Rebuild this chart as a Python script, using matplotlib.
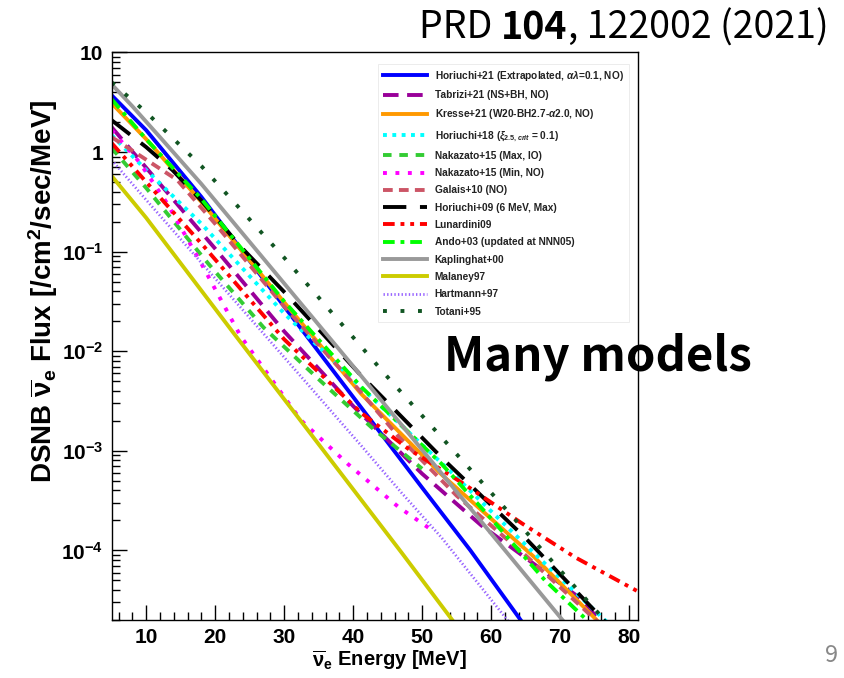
import matplotlib
matplotlib.use('Agg')
import matplotlib.pyplot as plt
import numpy as np
from matplotlib.ticker import MultipleLocator, LogLocator, FuncFormatter, NullFormatter

plt.rcParams['font.family'] = ['Liberation Sans', 'DejaVu Sans']
plt.rcParams['mathtext.fontset'] = 'custom'
plt.rcParams['mathtext.rm'] = 'Liberation Sans:bold'
plt.rcParams['mathtext.bf'] = 'Liberation Sans:bold'
plt.rcParams['mathtext.it'] = 'Liberation Sans:bold:italic'
plt.rcParams['mathtext.sf'] = 'Liberation Sans:bold'

# energies [MeV] and log10(flux), per model
e_horiuchi21 = [5, 10, 18, 30, 41, 50, 57, 64.5]
f_horiuchi21 = [0.57, 0.22, -0.45, -1.55, -2.55, -3.37, -4.00, -4.72]

e_tabrizi = [5, 12, 20, 30, 40, 50, 58.6, 65.9, 72.7, 76]
f_tabrizi = [0.25, -0.32, -0.97, -1.80, -2.55, -3.23, -3.75, -4.12, -4.47, -4.72]

e_kresse = [5, 10, 18, 30.5, 41.2, 53, 66.3, 75.6]
f_kresse = [0.49, 0.13, -0.50, -1.55, -2.43, -3.25, -4.07, -4.72]

e_horiuchi18 = [5, 10, 18, 30, 42, 54, 67, 76.8]
f_horiuchi18 = [0.17, -0.18, -0.72, -1.62, -2.42, -3.20, -4.08, -4.72]

e_nakazato_max = [5, 10, 19, 27, 35.3, 42.6, 50]
f_nakazato_max = [0.04, -0.36, -1.12, -1.76, -2.30, -2.76, -3.18]

e_nakazato_min = [5, 9, 13, 18, 23.7, 32.4, 39.2, 46.5, 51.5]
f_nakazato_min = [0.22, -0.10, -0.51, -1.12, -1.85, -2.69, -3.13, -3.56, -3.80]

e_galais = [5, 14.5, 20, 30, 41, 46.5, 55, 65, 75.5]
f_galais = [0.15, -0.28, -0.72, -1.55, -2.40, -2.85, -3.45, -4.05, -4.72]

e_horiuchi09 = [5, 10, 13.8, 17.9, 23.7, 30.5, 41.1, 53, 64.9, 76.6]
f_horiuchi09 = [0.32, 0.05, -0.18, -0.48, -0.95, -1.44, -2.24, -3.08, -3.87, -4.72]

e_lunardini = [5, 10, 18.4, 30, 41.2, 48, 56, 64.5, 72.2, 81.5]
f_lunardini = [0.09, -0.30, -0.95, -1.88, -2.62, -2.98, -3.33, -3.73, -4.07, -4.42]

e_ando = [5, 10, 18, 30, 41.2, 52.8, 60, 67.8, 74.2]
f_ando = [0.53, 0.13, -0.47, -1.50, -2.36, -3.13, -3.68, -4.30, -4.72]

e_kaplinghat = [5, 8, 12, 18, 40, 70.6]
f_kaplinghat = [0.68, 0.46, 0.15, -0.32, -2.15, -4.72]

e_malaney = [5, 10, 22.7, 47, 54.6]
f_malaney = [-0.24, -0.66, -1.82, -4.02, -4.72]

e_hartmann = [5, 10, 26.6, 41.2, 47, 52.8, 62.6]
f_hartmann = [-0.08, -0.48, -1.79, -2.95, -3.42, -3.87, -4.72]

e_totani = [5, 10, 18, 30, 45, 60, 76.7]
f_totani = [0.70, 0.40, -0.14, -1.06, -2.26, -3.42, -4.72]

models = [
    (r'Horiuchi+21 (Extrapolated, $\alpha\lambda$=0.1, NO)', e_horiuchi21, f_horiuchi21, '#0000ff', None, 2.8),
    ('Tabrizi+21 (NS+BH, NO)', e_tabrizi, f_tabrizi, '#990099', (4, 2.2), 2.8),
    (r'Kresse+21 (W20-BH2.7-$\alpha$2.0, NO)', e_kresse, f_kresse, '#ff9900', None, 2.8),
    (r'Horiuchi+18 ($\xi_{2.5,crit}$ = 0.1)', e_horiuchi18, f_horiuchi18, '#00ffff', (1, 1.4), 2.8),
    ('Nakazato+15 (Max, IO)', e_nakazato_max, f_nakazato_max, '#33cc33', (2.2, 2.0), 2.8),
    ('Nakazato+15 (Min, NO)', e_nakazato_min, f_nakazato_min, '#ff00ff', (1, 2.2), 2.8),
    ('Galais+10 (NO)', e_galais, f_galais, '#cc5566', (2.5, 1.6), 2.8),
    ('Horiuchi+09 (6 MeV, Max)', e_horiuchi09, f_horiuchi09, '#000000', (6, 3.5), 2.8),
    ('Lunardini09', e_lunardini, f_lunardini, '#ff0000', (3, 1.5, 1, 1.5, 1, 1.5), 2.8),
    ('Ando+03 (updated at NNN05)', e_ando, f_ando, '#00ff00', (3, 1.5, 1, 1.5), 2.8),
    ('Kaplinghat+00', e_kaplinghat, f_kaplinghat, '#999999', None, 2.8),
    ('Malaney97', e_malaney, f_malaney, '#cccc00', None, 2.8),
    ('Hartmann+97', e_hartmann, f_hartmann, '#9966ff', (0.5, 0.8), 2.0),
    ('Totani+95', e_totani, f_totani, '#115522', (1, 3.5), 2.8),
]

fig = plt.figure(figsize=(8.44, 6.78), dpi=100)
ax = fig.add_axes([0.1323, 0.0855, 0.6237, 0.8371])

for label, e, f, col, dash, lw in models:
    line, = ax.plot(e, 10.0 ** np.array(f), color=col, lw=lw, label=label)
    if dash is not None:
        line.set_dashes(dash)

ax.set_yscale('log')
ax.set_xlim(5, 81.3)
ax.set_ylim(2e-5, 10)

ax.xaxis.set_major_locator(MultipleLocator(10))
ax.xaxis.set_minor_locator(MultipleLocator(2))
ax.yaxis.set_major_locator(LogLocator(base=10, numticks=20))
ax.yaxis.set_minor_locator(LogLocator(base=10, subs=np.arange(2, 10), numticks=20))
ax.yaxis.set_minor_formatter(NullFormatter())


def ylab(v, pos):
    if abs(v - 10) < 1e-6:
        return '10'
    if abs(v - 1) < 1e-9:
        return '1'
    return r'$10^{%d}$' % int(round(np.log10(v)))


ax.yaxis.set_major_formatter(FuncFormatter(ylab))
ax.tick_params(which='both', direction='in', top=False, right=False, width=1.0)
ax.tick_params(which='major', length=11, pad=6, labelsize=15)
ax.tick_params(which='minor', length=5.5)
for lb in ax.get_xticklabels() + ax.get_yticklabels():
    lb.set_fontweight('bold')
for sp in ax.spines.values():
    sp.set_linewidth(1.0)

nubar = r'$\overline{\mathrm{\nu}}_{\mathrm{e}}$'
ax.set_xlabel(nubar + ' Energy [MeV]', fontsize=14.5, fontweight='bold')
ax.set_ylabel('DSNB ' + nubar + r' Flux [/cm$^{2}$/sec/MeV]', fontsize=20, fontweight='bold')
ax.xaxis.set_label_coords(0.527, -0.05)
ax.yaxis.set_label_coords(-0.098, 0.58)

leg = ax.legend(loc='upper left', bbox_to_anchor=(0.506, 0.98), fontsize=7.3,
                handlelength=4.3, handletextpad=0.8, labelspacing=0.72,
                frameon=True, fancybox=False, borderpad=0.5, borderaxespad=0)
leg.get_frame().set_edgecolor('#e4e4e4')
leg.get_frame().set_linewidth(0.6)
for t in leg.get_texts():
    t.set_fontweight('bold')
    t.set_color('#222222')

# slide decorations
t1 = fig.text(0.497, 0.93, 'PRD ', fontsize=27, family='Noto Sans CJK JP', va='bottom')
t2 = plt.annotate('104', xy=(1, 0), xycoords=t1, fontsize=27, family='Noto Sans CJK JP',
                  fontweight='bold', va='bottom', ha='left', annotation_clip=False)
t3 = plt.annotate(', 122002 (2021)', xy=(1, 0), xycoords=t2, fontsize=27,
                  family='Noto Sans CJK JP', va='bottom', ha='left', annotation_clip=False)

fig.text(598 / 844, 1 - 357 / 678, 'Many models', fontsize=34, fontweight='bold',
         family='Noto Sans CJK JP', ha='center', va='center')
fig.text(832 / 844, 1 - 655 / 678, '9', fontsize=17, color='#888888',
         family='Noto Sans CJK JP', ha='center', va='center')

fig.savefig('out.png', dpi=100)
